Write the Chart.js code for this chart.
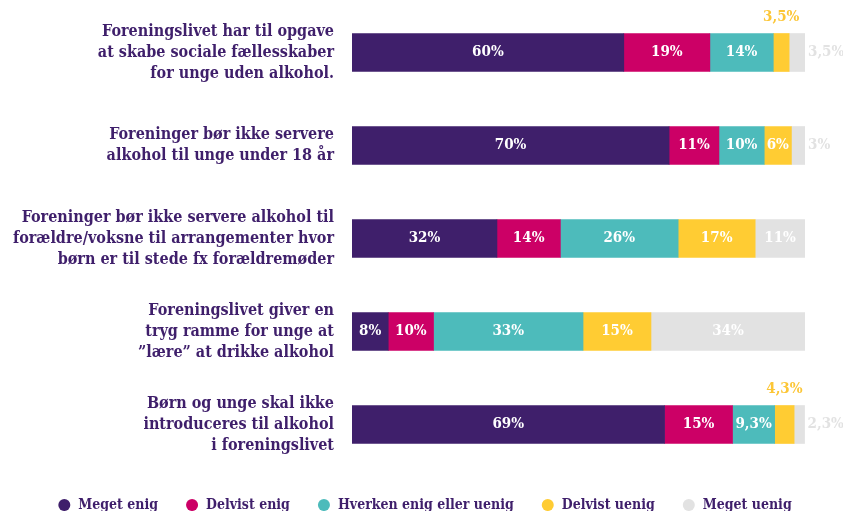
<!DOCTYPE html>
<html>
<head>
<meta charset="utf-8">
<script src="https://cdn.jsdelivr.net/npm/chart.js@4.4.0/dist/chart.umd.min.js"></script>
<style>
  body { margin: 0; background: #fff; }
</style>
</head>
<body>
<canvas id="myChart" width="843" height="511"></canvas>
<script>
const udsagn = [
  ['Foreningslivet har til opgave', 'at skabe sociale fællesskaber', 'for unge uden alkohol.'],
  ['Foreninger bør ikke servere', 'alkohol til unge under 18 år'],
  ['Foreninger bør ikke servere alkohol til', 'forældre/voksne til arrangementer hvor', 'børn er til stede fx forældremøder'],
  ['Foreningslivet giver en', 'tryg ramme for unge at', '”lære” at drikke alkohol'],
  ['Børn og unge skal ikke', 'introduceres til alkohol', 'i foreningslivet']
];

const megetEnig = [60, 70, 32, 8, 69];
const delvistEnig = [19, 11, 14, 10, 15];
const hverken = [14, 10, 26, 33, 9.3];
const delvistUenig = [3.5, 6, 17, 15, 4.3];
const megetUenig = [3.5, 3, 11, 34, 2.3];

const serier = ['Meget enig', 'Delvist enig', 'Hverken enig eller uenig', 'Delvist uenig', 'Meget uenig'];
const farver = ['#3F1F6B', '#CC0066', '#4DBBBB', '#FFCC33', '#E2E2E2'];

const skrift = "'DejaVu Serif Condensed', 'DejaVu Serif', serif";
const lilla = '#3F1F6B';

function fmt(v) {
  return String(v).replace('.', ',') + '%';
}

// labels paa og ved soejlerne
const labelPlugin = {
  id: 'procentLabels',
  afterLayout(chart) {
    // legenden lidt mod hoejre
    chart.legend.left += 22;
    chart.legend.right += 22;
  },
  afterDatasetsDraw(chart) {
    const ctx = chart.ctx;
    ctx.save();
    ctx.font = 'bold 15px ' + skrift;
    chart.data.datasets.forEach(function(ds, i) {
      const meta = chart.getDatasetMeta(i);
      meta.data.forEach(function(bar, j) {
        const v = ds.data[j];
        const midX = (bar.x + bar.base) / 2;
        ctx.textBaseline = 'middle';
        if (v >= 5) {
          ctx.fillStyle = '#ffffff';
          ctx.textAlign = 'center';
          ctx.fillText(fmt(v), midX, bar.y);
        } else if (i == 3) {
          ctx.fillStyle = '#FCC636';
          ctx.textAlign = 'center';
          ctx.fillText(fmt(v), midX, bar.y - bar.height / 2 - 16);
        } else {
          ctx.fillStyle = '#E2E2E2';
          ctx.textAlign = 'left';
          ctx.fillText(fmt(v), bar.x + 3, bar.y);
        }
      });
    });
    ctx.restore();
  }
};

const datasets = [megetEnig, delvistEnig, hverken, delvistUenig, megetUenig].map(function(d, i) {
  return {
    label: serier[i],
    data: d,
    backgroundColor: farver[i],
    borderWidth: 0,
    barThickness: 38
  };
});

let canva = document.getElementById('myChart').getContext('2d');

const myChart = new Chart(canva, {
  type: 'bar',
  data: { labels: udsagn, datasets: datasets },
  plugins: [labelPlugin],
  options: {
    indexAxis: 'y',
    responsive: false,
    animation: false,
    layout: { padding: { top: 6, right: 38, bottom: 0, left: 0 } },
    scales: {
      x: {
        stacked: true,
        min: 0,
        max: 100,
        display: false
      },
      y: {
        stacked: true,
        grid: { display: false, drawTicks: false },
        border: { display: false },
        afterFit: function(scale) {
          scale.width = 352;
          scale.paddingTop = 0;
          scale.paddingBottom = 0;
        },
        ticks: {
          padding: 18,
          color: lilla,
          font: { family: skrift, size: 16, weight: 'bold', lineHeight: 1.32 }
        }
      }
    },
    plugins: {
      tooltip: { enabled: false },
      legend: {
        position: 'bottom',
        maxHeight: 40,
        labels: {
          usePointStyle: true,
          pointStyle: 'circle',
          boxWidth: 14,
          boxHeight: 8.5,
          padding: 27,
          color: lilla,
          font: { family: skrift, size: 14, weight: 'bold' }
        }
      }
    }
  }
});
</script>
</body>
</html>
